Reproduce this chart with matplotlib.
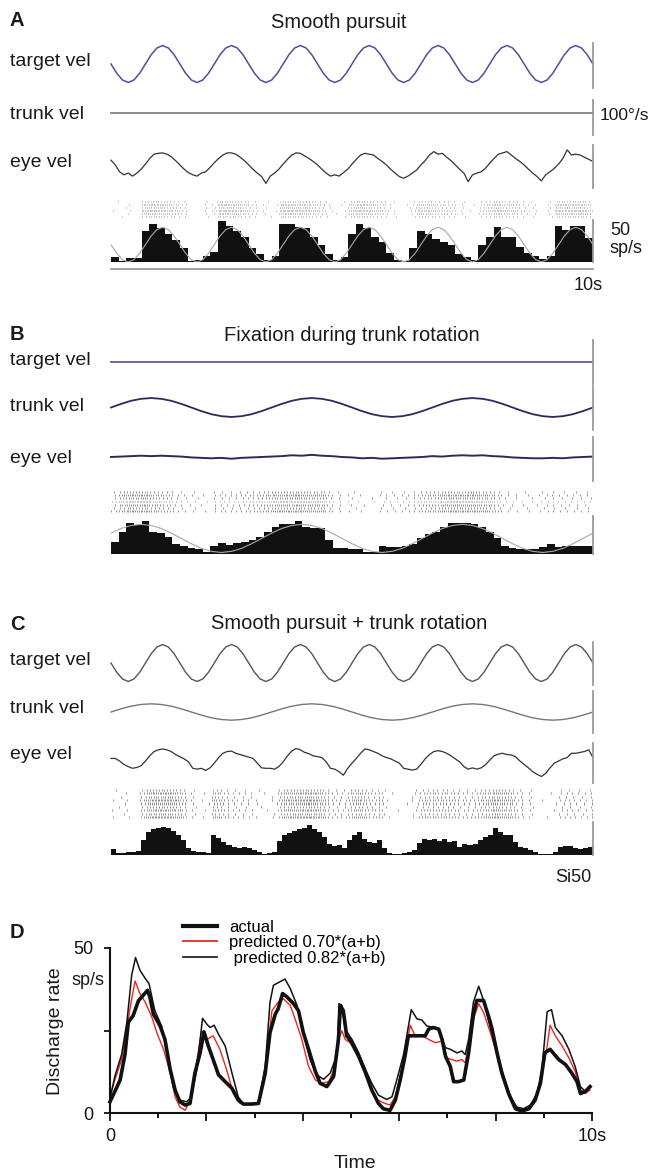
import numpy as np
import matplotlib

matplotlib.use("Agg")

import matplotlib.pyplot as plt
from matplotlib.lines import Line2D

plt.rcParams["font.family"] = ["Liberation Sans", "DejaVu Sans"]

# ==================================================
# DATA
# velocities in deg/s, rates in sp/s, time 0-10 s
# ==================================================

# 0.7 Hz target, 12 samples per cycle
target_vel_pursuit = [
    0, -21.5, -37.2, -43, -37.2, -21.5, 0, 21.5, 37.2, 43, 37.2, 21.5,
    0, -21.5, -37.2, -43, -37.2, -21.5, 0, 21.5, 37.2, 43, 37.2, 21.5,
    0, -21.5, -37.2, -43, -37.2, -21.5, 0, 21.5, 37.2, 43, 37.2, 21.5,
    0, -21.5, -37.2, -43, -37.2, -21.5, 0, 21.5, 37.2, 43, 37.2, 21.5,
    0, -21.5, -37.2, -43, -37.2, -21.5, 0, 21.5, 37.2, 43, 37.2, 21.5,
    0, -21.5, -37.2, -43, -37.2, -21.5, 0, 21.5, 37.2, 43, 37.2, 21.5,
    0, -21.5, -37.2, -43, -37.2, -21.5, 0, 21.5, 37.2, 43, 37.2, 21.5,
    0,
]

flat_vel = [0, 0]

# 16 samples per 0.7 Hz cycle
eye_vel_a = [
    10, -1, -17, -24, -20, -27, -20, -11, 1, 14, 24, 26, 27, 24, 18, 9,
    -1, -11, -19, -24, -27, -20, -17, -7, 4, 14, 22, 27, 27, 24, 17, 9,
    -1, -11, -20, -28, -44, -27, -20, -11, 1, 12, 22, 27, 26, 20, 14, 7,
    -1, -11, -20, -27, -24, -27, -19, -11, 1, 12, 22, 26, 24, 22, 14, 7,
    -1, -11, -20, -28, -32, -27, -20, -13, -1, 9, 22, 30, 24, 26, 17, 9,
    -1, -11, -20, -40, -24, -20, -17, -9, 3, 14, 24, 27, 30, 22, 14, 7,
    -1, -11, -20, -28, -38, -24, -17, -9, 1, 14, 34, 22, 24, 22, 17, 12,
    7,
]

eye_vel_c = [
    6, 6, 0, -8, -13, -17, -15, -11, 0, 12, 22, 26, 28, 26, 22, 15,
    10, 5, -2, -17, -19, -17, -22, -16, -5, 8, 18, 22, 23, 18, 15, 12,
    9, 6, -5, -16, -17, -17, -19, -13, -2, 12, 23, 29, 26, 20, 17, 12,
    10, 8, -2, -17, -19, -25, -33, -17, -5, 6, 18, 28, 26, 22, 18, 12,
    8, 5, 0, -5, -17, -19, -21, -19, -8, 5, 15, 22, 24, 22, 18, 12,
    5, -2, -13, -19, -16, -19, -16, -9, 2, 12, 16, 18, 15, 14, 10, 0,
    -8, -16, -25, -31, -36, -29, -16, -5, 0, 5, 8, 18, 18, 20, 22, 26,
    8,
]

# 0.3 Hz trunk, 16 samples per cycle
trunk_vel_b = [
    0, 8.4, 15.6, 20.2, 22, 20.2, 15.6, 8.4, 0, -8.4, -15.6, -20.2, -22, -20.2, -15.6, -8.4,
    0, 8.4, 15.6, 20.2, 22, 20.2, 15.6, 8.4, 0, -8.4, -15.6, -20.2, -22, -20.2, -15.6, -8.4,
    0, 8.4, 15.6, 20.2, 22, 20.2, 15.6, 8.4, 0, -8.4, -15.6, -20.2, -22, -20.2, -15.6, -8.4,
    0,
]

trunk_vel_c = [
    0, 7.3, 13.5, 17.5, 19, 17.5, 13.5, 7.3, 0, -7.3, -13.5, -17.5, -19, -17.5, -13.5, -7.3,
    0, 7.3, 13.5, 17.5, 19, 17.5, 13.5, 7.3, 0, -7.3, -13.5, -17.5, -19, -17.5, -13.5, -7.3,
    0, 7.3, 13.5, 17.5, 19, 17.5, 13.5, 7.3, 0, -7.3, -13.5, -17.5, -19, -17.5, -13.5, -7.3,
    0,
]

eye_vel_b = [
    0, 1, 2, 3, 2, 3, 2, 1, -1, -2, -3, -2, -4, -2, -1, 0,
    1, 2, 4, 3, 5, 3, 2, 0, -1, -3, -2, -4, -3, -2, -1, 0,
    2, 1, 3, 4, 3, 4, 2, 1, -1, -2, -3, -3, -2, -3, -1, 0,
    1,
]

# firing-rate histograms (sp/s)
rate_a = [
    6.5, 1, 5, 5, 38, 47, 41.5, 35, 27,
    17, 1, 2, 8, 13, 51, 44, 39, 31,
    17, 10, 3, 7, 47, 47, 43, 42, 31,
    21, 10, 3, 6.5, 35, 47, 42, 31, 25,
    11.5, 3, 1, 17, 38, 35, 29, 25, 21,
    10, 6.5, 2, 21, 31, 43, 31, 31, 19,
    11.5, 7, 4, 8, 45, 40, 45, 45, 30,
]

fit_a = [
    21.5, 10.8, 2.9, 0, 2.9, 10.8, 21.5, 32.2, 40.1, 43, 40.1, 32.2,
    21.5, 10.8, 2.9, 0, 2.9, 10.8, 21.5, 32.2, 40.1, 43, 40.1, 32.2,
    21.5, 10.8, 2.9, 0, 2.9, 10.8, 21.5, 32.2, 40.1, 43, 40.1, 32.2,
    21.5, 10.8, 2.9, 0, 2.9, 10.8, 21.5, 32.2, 40.1, 43, 40.1, 32.2,
    21.5, 10.8, 2.9, 0, 2.9, 10.8, 21.5, 32.2, 40.1, 43, 40.1, 32.2,
    21.5, 10.8, 2.9, 0, 2.9, 10.8, 21.5, 32.2, 40.1, 43, 40.1, 32.2,
    21.5, 10.8, 2.9, 0, 2.9, 10.8, 21.5, 32.2, 40.1, 43, 40.1, 32.2,
    21.5,
]

rate_b = [
    16, 29, 41, 38, 43, 29, 27, 23, 13, 10, 8, 6, 3, 11, 15, 12, 14, 16, 19, 23, 29,
    36, 39, 39, 43, 36, 34, 34, 19, 8, 8, 6, 6, 3, 2, 11, 9, 9, 11, 13, 21, 26,
    29, 36, 41, 41, 41, 39, 36, 29, 21, 10, 8, 6, 6, 6, 9, 13, 9, 10, 10, 10, 10,
]

fit_b = [
    27.5, 33.6, 37.5, 39, 37.5, 33.6, 27.5, 20.5, 13.5, 7.4, 3.5, 2, 3.5, 7.4, 13.5, 20.5,
    27.5, 33.6, 37.5, 39, 37.5, 33.6, 27.5, 20.5, 13.5, 7.4, 3.5, 2, 3.5, 7.4, 13.5, 20.5,
    27.5, 33.6, 37.5, 39, 37.5, 33.6, 27.5, 20.5, 13.5, 7.4, 3.5, 2, 3.5, 7.4, 13.5, 20.5,
    27.5,
]

rate_c = [
    9, 2.5, 2.5, 4, 5, 6, 22, 35, 39, 41, 42, 41, 36, 31, 22, 10,
    6, 5, 5, 2.5, 30, 26, 19, 15, 12, 11, 12, 10, 7.5, 5, 1.5, 3.5,
    5, 21, 30, 34, 36, 40, 41, 45, 40, 35, 27.5, 16, 13.5, 15, 11, 22.5,
    30, 35, 25, 19, 17.5, 22.5, 10, 2.5, 1, 1, 2.5, 5, 7.5, 17.5, 25, 22.5,
    25, 21, 25, 20, 21, 12.5, 16, 15, 16, 22.5, 27.5, 30, 41, 35, 31, 30,
    20, 12.5, 10, 7.5, 5, 1.5, 1, 1, 5, 12.5, 13.5, 13.5, 11, 9, 10, 12.5,
]

# Panel D: discharge rate vs time
actual_t = [0, 0.1, 0.21, 0.31, 0.38, 0.48, 0.59, 0.69, 0.78, 0.83, 0.9, 1.04, 1.14,
            1.25, 1.35, 1.45, 1.56, 1.66, 1.76, 1.87, 1.95, 2.04, 2.14, 2.25, 2.39,
            2.53, 2.66, 2.77, 2.94, 3.08, 3.22, 3.32, 3.43, 3.49, 3.58, 3.67, 3.81,
            3.91, 4.01, 4.12, 4.26, 4.36, 4.5, 4.64, 4.74, 4.78, 4.84, 4.91, 5.02,
            5.16, 5.29, 5.43, 5.57, 5.67, 5.81, 5.92, 6.02, 6.12, 6.19, 6.37, 6.54,
            6.61, 6.71, 6.82, 6.89, 6.96, 7.06, 7.13, 7.23, 7.34, 7.44, 7.54, 7.61,
            7.75, 7.85, 7.92, 8.03, 8.13, 8.27, 8.41, 8.55, 8.69, 8.82, 8.93, 9.02,
            9.13, 9.31, 9.45, 9.58, 9.69, 9.76, 9.86, 9.96]
actual_v = [3.4, 6.5, 10, 17.7, 27.5, 29.5, 34, 35.7, 37.2, 35, 30, 26.4, 22.3,
            13.1, 7, 3.4, 2.4, 2.9, 12, 18.2, 24.6, 20.3, 16.2, 11.6, 9.5,
            7.5, 3.9, 2.7, 2.7, 2.9, 12, 24.4, 30, 31.6, 36.2, 35.2, 33.1,
            31, 24.4, 19.3, 12.6, 9, 8, 11.1, 22.3, 32.6, 31, 23.4, 21.3,
            17.2, 12.6, 7, 2.9, 1.3, 0.8, 3.9, 10, 17.2, 23.4, 23.4, 23.4,
            25.4, 25.9, 25.4, 22.3, 17.2, 14.1, 9.5, 9.5, 10, 18.2, 30, 34.1,
            34.1, 29.5, 25.9, 18.2, 12.1, 5.9, 1.3, 0.6, 1.3, 3.9, 9, 18.2,
            19.3, 16.2, 14.7, 12.1, 9.5, 5.9, 6.5, 8]

pred70_t = [0, 0.1, 0.24, 0.38, 0.45, 0.52, 0.62, 0.73, 0.87, 0.97, 1.11, 1.25,
            1.35, 1.45, 1.56, 1.66, 1.76, 1.9, 2.01, 2.14, 2.28, 2.42, 2.56, 2.7,
            2.87, 3.08, 3.22, 3.36, 3.49, 3.6, 3.74, 3.84, 3.98, 4.12, 4.26, 4.39,
            4.54, 4.66, 4.74, 4.81, 4.88, 4.98, 5.12, 5.26, 5.4, 5.54, 5.67, 5.81,
            5.92, 6.02, 6.12, 6.23, 6.33, 6.47, 6.61, 6.75, 6.89, 6.99, 7.09, 7.2,
            7.3, 7.37, 7.44, 7.54, 7.65, 7.75, 7.89, 8.03, 8.17, 8.31, 8.44, 8.58,
            8.72, 8.86, 8.96, 9.07, 9.13, 9.24, 9.38, 9.52, 9.65, 9.76, 9.86, 9.96]
pred70_v = [4.9, 10, 16.2, 28.5, 34.6, 40, 36.2, 33.6, 29, 24.4, 19.3, 12.1,
            4.9, 1.8, 0.8, 3.9, 12, 24.9, 22.3, 23.4, 19.3, 13.1, 5.9, 2.9,
            2.7, 2.9, 13.1, 31, 33.6, 34.6, 32.6, 28.5, 22.3, 14.1, 10, 9,
            9.5, 13.6, 22.3, 24.9, 22.3, 21.3, 17.7, 13.1, 8, 4.1, 3.1, 2.4,
            4.9, 11.1, 18.2, 26.6, 23.4, 23.4, 22.3, 21.3, 21.8, 16.7, 16.2, 15.7,
            16.2, 15.2, 20.3, 28.5, 33.1, 30.5, 24.4, 17.7, 10, 4.9, 0.8, 0.6,
            1.3, 4.9, 11.1, 20.3, 26.6, 23.4, 20.3, 16.7, 12.6, 7, 5.9, 7]

pred82_t = [0, 0.1, 0.24, 0.35, 0.45, 0.53, 0.62, 0.73, 0.81, 0.93, 1.07, 1.21,
            1.31, 1.45, 1.59, 1.69, 1.8, 1.92, 2.01, 2.08, 2.16, 2.25, 2.39, 2.53,
            2.66, 2.77, 2.94, 3.08, 3.22, 3.32, 3.39, 3.53, 3.63, 3.74, 3.88, 4.01,
            4.15, 4.29, 4.43, 4.57, 4.71, 4.75, 4.81, 4.88, 5.02, 5.16, 5.29, 5.43,
            5.57, 5.74, 5.85, 5.95, 6.09, 6.25, 6.37, 6.47, 6.57, 6.71, 6.82, 6.96,
            7.06, 7.2, 7.3, 7.37, 7.44, 7.54, 7.65, 7.75, 7.89, 8.03, 8.17, 8.31,
            8.44, 8.58, 8.72, 8.86, 8.96, 9.07, 9.16, 9.24, 9.38, 9.52, 9.65, 9.76,
            9.86, 9.96]
pred82_v = [4.4, 11.1, 17.7, 27.5, 41.8, 47.1, 43.3, 40.8, 39.2, 31, 26.4, 16.2,
            8, 3.9, 3.4, 4.9, 13.1, 28.7, 26.9, 25.9, 26.6, 23.9, 20.3, 12.1,
            4.9, 2.7, 2.9, 3.1, 14.1, 33.6, 38.7, 39.8, 40.6, 37.7, 32.6, 24.4,
            16.2, 11.6, 10.2, 12.1, 17.7, 33.1, 32.6, 25.4, 22.3, 18.2, 13.6, 9,
            5.4, 4.1, 4.9, 10, 17.7, 31.3, 28.5, 28.2, 26.4, 25.9, 25.4, 19.8,
            19.3, 18.2, 18.8, 17.7, 22.3, 33.6, 38.4, 34.1, 25.9, 18.2, 11.1, 4.9,
            1.8, 1.3, 2.4, 5.9, 13.1, 30.7, 31.3, 25.9, 23.4, 19.3, 14.1, 8,
            6.5, 8]

legend_labels = ["actual", "predicted 0.70*(a+b)", " predicted 0.82*(a+b)"]

# ==================================================
# LAYOUT HELPERS (pixel positions)
# ==================================================

W, H = 649, 1170
X0, X1 = 111, 593
DEG_PX = 0.43          # pixels per deg/s
TEXT = "#1a1a1a"
BAR = "#9a9a9a"

fig = plt.figure(figsize=(W / 100, H / 100), dpi=100)


def px_axes(left, top, right, bottom):
    return fig.add_axes([left / W, 1 - bottom / H,
                         (right - left) / W, (bottom - top) / H])


def label(x, y, s, size=14, **kw):
    fig.text(x / W, 1 - y / H, s, fontsize=size, color=TEXT, **kw)


def bar_only(ax):
    for side in ["top", "left", "bottom"]:
        ax.spines[side].set_visible(False)
    ax.spines["right"].set_color(BAR)
    ax.spines["right"].set_linewidth(1.3)
    ax.set_xticks([])
    ax.set_yticks([])
    ax.patch.set_alpha(0)


def vel_row(top, bottom, zero, values, color, lw):
    ax = px_axes(X0, top, X1, bottom)
    t = np.linspace(0, 10, len(values))
    ax.plot(t, values, color=color, lw=lw, clip_on=False)
    ax.set_xlim(0, 10)
    ax.set_ylim(-(bottom - zero) / DEG_PX, (zero - top) / DEG_PX)
    bar_only(ax)
    return ax


def raster_row(top, bottom, rate, nrows):
    # spike rows laid out from the histogram rate, each row with its own density
    ax = px_axes(X0, top, X1, bottom)
    edges = np.linspace(0, 10, len(rate) + 1)
    base = np.concatenate([[0.0], np.cumsum(np.asarray(rate) * np.diff(edges))])
    trains = []
    for r in range(nrows):
        gain = 0.42 + 0.09 * ((r * 3) % 5)
        cum = base * gain
        first = (0.37 + 0.618 * r) % 1.0
        trains.append(np.interp(np.arange(first, cum[-1], 1.0), cum, edges))
    ax.eventplot(trains, lineoffsets=np.arange(nrows), linelengths=0.6,
                 linewidths=0.45, colors="#555555")
    ax.set_xlim(0, 10)
    ax.set_ylim(nrows - 0.5, -0.5)
    ax.axis("off")
    return ax


def hist_row(top, bottom, rate, fit=None, ymax=50):
    ax = px_axes(X0, top, X1, bottom)
    edges = np.linspace(0, 10, len(rate) + 1)
    ax.stairs(rate, edges, fill=True, color="#111111", lw=0)
    if fit is not None:
        ax.plot(np.linspace(0, 10, len(fit)), fit, color="#a8a8a8", lw=0.8)
    ax.set_xlim(0, 10)
    ax.set_ylim(0, ymax)
    bar_only(ax)
    return ax


# ==================================================
# PANEL A  Smooth pursuit
# ==================================================

label(10, 20, "A", size=14.5, weight="bold", va="center")
label(339, 28, "Smooth pursuit", size=14.5, ha="center", va="baseline")
label(10, 66, "target vel", va="baseline")
label(10, 119, "trunk vel", va="baseline")
label(10, 167, "eye vel", va="baseline")

vel_row(43, 88, 64, target_vel_pursuit, "#4f4f9e", 1.1)
vel_row(100, 135, 113, flat_vel, "#8a8a8a", 1.4)
vel_row(145, 188, 164.5, eye_vel_a, "#333333", 0.9)
raster_row(200, 218, rate_a, 6)
ax_ha = hist_row(220, 262, rate_a, fit_a, ymax=52)
ax_ha.spines["bottom"].set_visible(True)
ax_ha.spines["bottom"].set_color(BAR)
ax_ha.spines["bottom"].set_linewidth(1.3)
ax_ha.spines["bottom"].set_position(("outward", 5))

label(600, 120, "100°/s", size=12.5, va="baseline")
label(610, 235, "50", size=13, va="baseline")
label(610, 253, "sp/s", size=13, va="baseline")
label(588, 290, "10s", size=13, ha="center", va="baseline")

# ==================================================
# PANEL B  Fixation during trunk rotation
# ==================================================

label(10, 335, "B", size=14.5, weight="bold", va="center")
label(352, 341, "Fixation during trunk rotation", size=14.5, ha="center", va="baseline")
label(10, 365, "target vel", va="baseline")
label(10, 411, "trunk vel", va="baseline")
label(10, 463, "eye vel", va="baseline")

vel_row(340, 385, 362, flat_vel, "#5a5aa8", 1.3)
vel_row(387, 430, 407.5, trunk_vel_b, "#2b2b5a", 1.3)
vel_row(437, 481, 457, eye_vel_b, "#2b2b5a", 1.4)
raster_row(490, 513, rate_b, 7)
hist_row(516, 554, rate_b, fit_b)

# ==================================================
# PANEL C  Smooth pursuit + trunk rotation
# ==================================================

label(10, 625, "C", size=14.5, weight="bold", va="center")
label(349, 629, "Smooth pursuit + trunk rotation", size=14.5, ha="center", va="baseline")
label(10, 665, "target vel", va="baseline")
label(10, 713, "trunk vel", va="baseline")
label(10, 759, "eye vel", va="baseline")

vel_row(642, 685, 663, target_vel_pursuit, "#555555", 1.0)
vel_row(691, 733, 712, trunk_vel_c, "#777777", 1.0)
vel_row(743, 783, 761, eye_vel_c, "#333333", 0.9)
raster_row(788, 819, rate_c, 9)
hist_row(822, 855, rate_c)

label(573, 882, "Si50", size=13, ha="center", va="baseline")

# ==================================================
# PANEL D  actual vs predicted discharge
# ==================================================

label(10, 932, "D", size=14.5, weight="bold", va="center")

axd = px_axes(110, 948, 592, 1113)
axd.plot(pred70_t, pred70_v, color="#e8281e", lw=1.0, clip_on=False)
axd.plot(pred82_t, pred82_v, color="#111111", lw=1.1, clip_on=False)
axd.plot(actual_t, actual_v, color="#111111", lw=2.6, clip_on=False)
axd.set_xlim(0, 10)
axd.set_ylim(0, 50)
axd.spines["top"].set_visible(False)
axd.spines["right"].set_visible(False)
for side in ["left", "bottom"]:
    axd.spines[side].set_linewidth(1.5)
    axd.spines[side].set_color("#111111")
axd.set_xticks([0, 2, 4, 6, 8, 10])
axd.set_xticklabels(["0", "", "", "", "", "10s"])
axd.set_xticks([1, 3, 5, 7, 9], minor=True)
axd.set_yticks([0, 25, 50])
axd.set_yticklabels(["0", "", "50"])
axd.tick_params(axis="x", which="major", length=5.5, width=1.3, pad=5,
                labelsize=13, colors="#111111")
axd.tick_params(axis="x", which="minor", length=3.5, width=1.3)
axd.tick_params(axis="y", length=4, width=1.3, pad=8, labelsize=13, colors="#111111")

handles = [Line2D([], [], color="#111111", lw=3.0),
           Line2D([], [], color="#e8281e", lw=1.3),
           Line2D([], [], color="#111111", lw=1.2)]
axd.legend(handles, legend_labels, loc="upper left",
           bbox_to_anchor=(183 / W, 1 - 920 / H), bbox_transform=fig.transFigure,
           frameon=False, fontsize=12, borderpad=0, borderaxespad=0,
           handlelength=2.05, handletextpad=0.7, labelspacing=0.02)

label(88, 985, "sp/s", size=13, ha="center", va="baseline")
label(55, 1031, "Discharge rate", size=14, ha="center", va="center", rotation=90)
label(355, 1168, "Time", size=14, ha="center", va="baseline")

fig.savefig("out.png", dpi=100)
plt.close(fig)
